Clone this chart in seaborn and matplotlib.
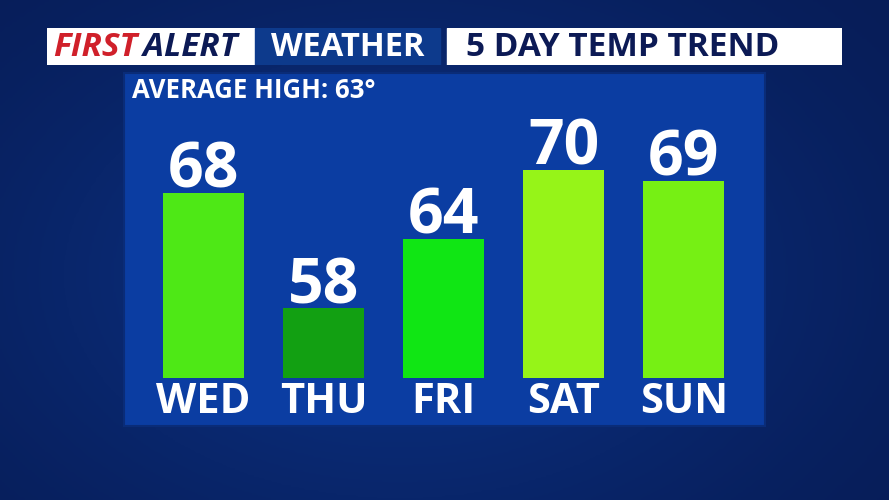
import matplotlib

matplotlib.use("Agg")

import matplotlib.pyplot as plt
import numpy as np
import pandas as pd
import seaborn as sns

days = ["WED", "THU", "FRI", "SAT", "SUN"]
highs = [68, 58, 64, 70, 69]
bar_colors = ["#4ee816", "#12a012", "#10e614", "#96f418", "#76f014"]
average_high = 63
base_temp = 52  # bars grow up from this temperature

df = pd.DataFrame({"day": days, "high": highs})
df["above_base"] = df["high"] - base_temp

sns.set_theme(style="white")
plt.rcParams["font.family"] = ["Open Sans", "DejaVu Sans"]

W, H = 889, 500
fig = plt.figure(figsize=(W / 100, H / 100), dpi=100)
fig.patch.set_facecolor("#0a2a70")

# soft background gradient
bg = fig.add_axes([0, 0, 1, 1])
yy, xx = np.mgrid[0:1:200j, 0:1:360j]
glow = np.exp(-((xx - 0.45) ** 2 / 0.25 + (yy - 0.55) ** 2 / 0.35))
bg.imshow(glow, cmap=sns.blend_palette(["#071d58", "#0b2f7e"], as_cmap=True),
          extent=[0, 1, 0, 1], aspect="auto")
bg.set_axis_off()


def box(x0, y0, x1, y1):
    return [x0 / W, 1 - y1 / H, (x1 - x0) / W, (y1 - y0) / H]


# header bar
hdr = fig.add_axes(box(47, 28, 842, 65))
hdr.set_xlim(47, 842)
hdr.set_ylim(0, 1)
hdr.axis("off")
hdr.axvspan(47, 255, color="white")
hdr.axvspan(255, 440, color="#0d3a8c")
hdr.axvspan(447, 842, color="white")
hdr.text(53, 0.47, "FIRST", color="#d0202a", fontsize=24, fontweight="bold",
         fontstyle="italic", va="center", ha="left")
hdr.text(143, 0.47, "ALERT", color="#0c1a55", fontsize=24, fontweight="bold",
         fontstyle="italic", va="center", ha="left")
hdr.text(348, 0.47, "WEATHER", color="white", fontsize=23.5, fontweight="bold",
         va="center", ha="center")
hdr.text(623, 0.47, "5 DAY TEMP TREND", color="#0c1a55", fontsize=24,
         fontweight="bold", va="center", ha="center")

# chart panel
ax = fig.add_axes(box(124, 73, 765, 426))
ax.set_facecolor("#0b3da2")
sns.barplot(data=df, x="day", y="above_base", hue="day", palette=bar_colors,
            legend=False, width=0.675, saturation=1, linewidth=0, ax=ax)
ax.set_xlim(-0.6625, 4.675)
ax.set_ylim(47.85 - base_temp, 78.34 - base_temp)
ax.set_yticks([])
ax.set_xticks([])
ax.set_xlabel("")
ax.set_ylabel("")
for s in ax.spines.values():
    s.set_color("#0a2c78")
    s.set_linewidth(1.5)

for i, (d, v) in enumerate(zip(days, df["above_base"])):
    ax.text(i, v + 0.45, str(highs[i]), color="white", fontsize=45,
            fontweight="bold", ha="center", va="baseline")
    ax.text(i, -2.1, d, color="white", fontsize=30, fontweight="bold",
            ha="center", va="center")

ax.text(0.013, 0.95, f"AVERAGE HIGH: {average_high}°", transform=ax.transAxes,
        color="white", fontsize=18.5, fontweight="bold", ha="left", va="center")

fig.savefig("out.png", dpi=100, facecolor=fig.get_facecolor())
plt.close(fig)
